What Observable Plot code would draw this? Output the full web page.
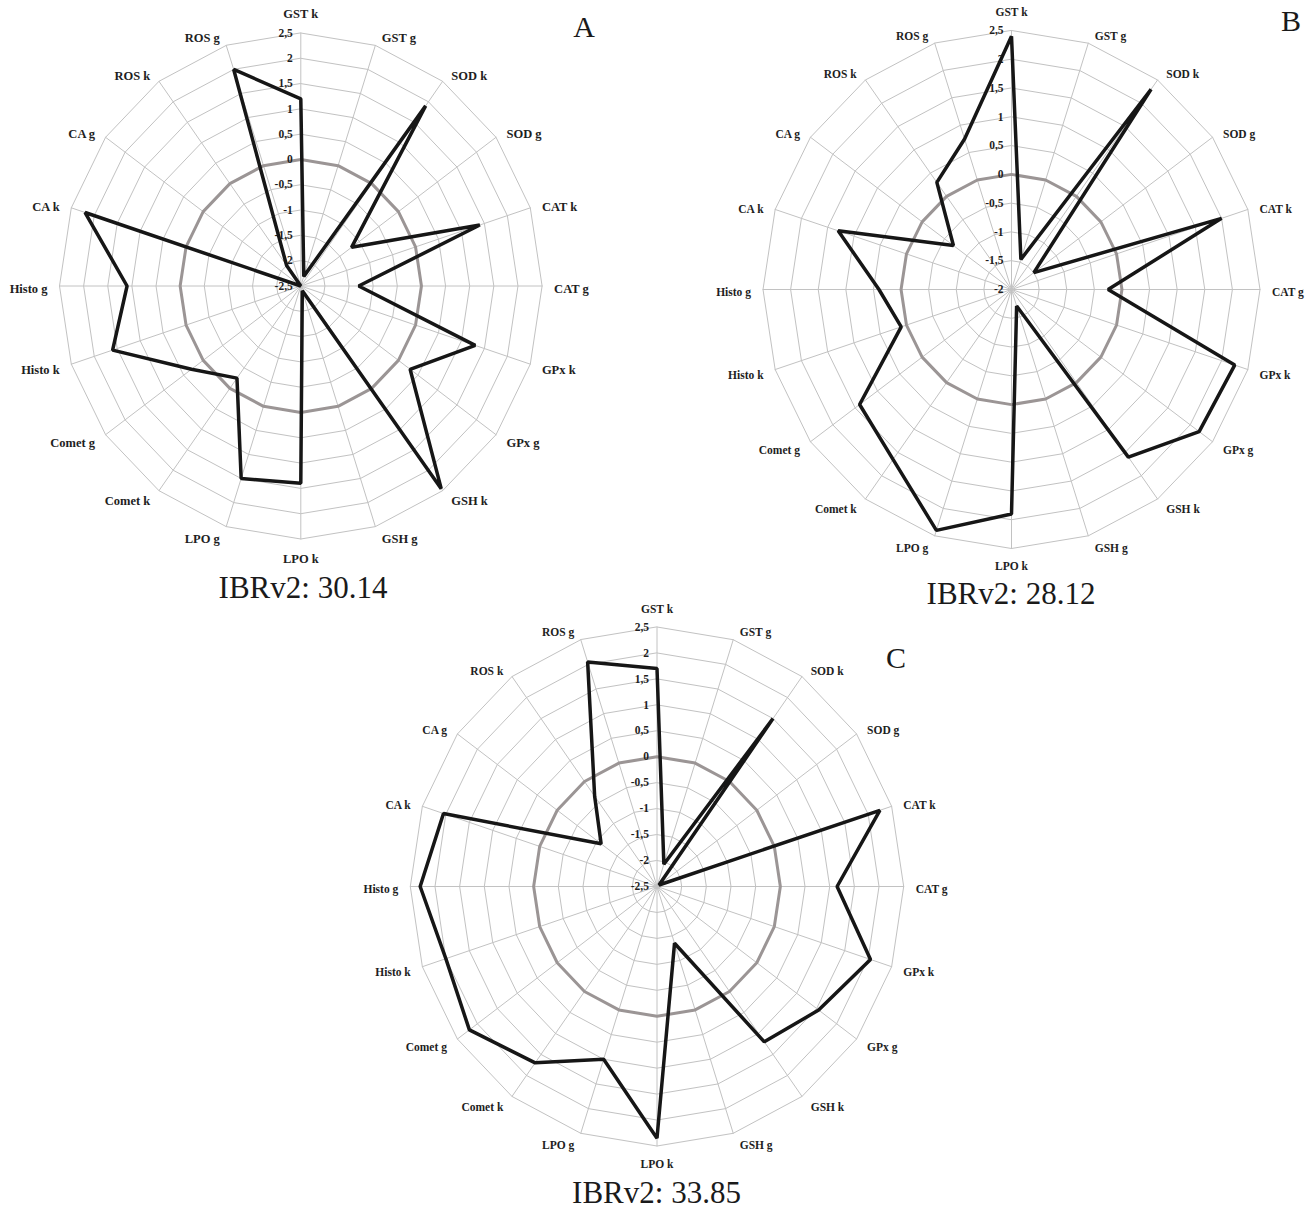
<!DOCTYPE html>
<html>
<head>
<meta charset="utf-8">
<script src="https://cdn.jsdelivr.net/npm/d3@7"></script>
<script src="https://cdn.jsdelivr.net/npm/@observablehq/plot@0.6"></script>
<style>
  html, body { margin: 0; padding: 0; background: #fff; overflow: hidden; }
  #wrap { position: relative; width: 1311px; height: 1209px; }
  #wrap svg { position: absolute; left: 0; top: 0; }
  .ttl { position: absolute; font-family: 'Liberation Serif', 'Times New Roman', serif; font-size: 31px; line-height: 31px; color: #1a1a1a; white-space: nowrap; transform: translateX(-50%); }
  .let { position: absolute; font-family: 'Liberation Serif', 'Times New Roman', serif; font-size: 30px; line-height: 30px; color: #1a1a1a; transform: translateX(-50%); }
</style>
</head>
<body>
<div id="wrap"></div>
<script>
// ---- data ----
const axes = ["GST k","GST g","SOD k","SOD g","CAT k","CAT g","GPx k","GPx g","GSH k","GSH g",
              "LPO k","LPO g","Comet k","Comet g","Histo k","Histo g","CA k","CA g","ROS k","ROS g"];
const valuesA = [1.2, -2.3, 1.9, -1.2, 1.4, -1.3, 1.3, 0.3, 2.45, -2.4, 1.4, 1.5, -0.25, 0.3, 1.6, 1.1, 2.2, -2.5, -2.0, 2.0];
const valuesB = [2.4, -1.45, 2.3, -1.5, 2.0, -0.25, 2.25, 2.2, 1.6, -1.7, 1.9, 2.4, 1.65, 1.4, 0.1, 0.4, 1.3, -0.7, 0.3, 0.75];
const valuesC = [1.7, -2.05, 1.5, -2.45, 2.25, 1.15, 2.05, 1.55, 1.2, -1.35, 2.35, 1.0, 1.7, 2.2, 2.0, 2.3, 2.05, -1.1, -0.35, 2.05];
const ticksA = [-2.5, -2, -1.5, -1, -0.5, 0, 0.5, 1, 1.5, 2, 2.5];
const ticksB = [-2, -1.5, -1, -0.5, 0, 0.5, 1, 1.5, 2, 2.5];
const ticksC = [-2.5, -2, -1.5, -1, -0.5, 0, 0.5, 1, 1.5, 2, 2.5];
const tickLabelsA = ["-2,5","-2","-1,5","-1","-0,5","0","0,5","1","1,5","2","2,5"];
const tickLabelsB = ["-2","-1,5","-1","-0,5","0","0,5","1","1,5","2","2,5"];
const tickLabelsC = ["-2,5","-2","-1,5","-1","-0,5","0","0,5","1","1,5","2","2,5"];
const panelLetters = ["A", "B", "C"];
const titles = ["IBRv2: 30.14", "IBRv2: 28.12", "IBRv2: 33.85"];

// ---- layout (page pixels) ----
const layouts = [
  {cx: 300.3, cy: 285.5, rx: 241.3, ry: 253,   labelSize: 12.5, gapV: 19.5, titleX: 303,   titleBase: 598,  letX: 584,  letBase: 37},
  {cx: 1011,  cy: 289,   rx: 248.5, ry: 259,   labelSize: 11.5, gapV: 18,   titleX: 1011,  titleBase: 604,  letX: 1291, letBase: 31.5},
  {cx: 656.5, cy: 886,   rx: 246.7, ry: 259.5, labelSize: 11.5, gapV: 18,   titleX: 656.5, titleBase: 1203, letX: 896,  letBase: 668}
];
const panels = [
  {values: valuesA, ticks: ticksA, tickLabels: tickLabelsA},
  {values: valuesB, ticks: ticksB, tickLabels: tickLabelsB},
  {values: valuesC, ticks: ticksC, tickLabels: tickLabelsC}
];

const serif = "'Liberation Serif', 'Times New Roman', Times, serif";
const wrap = document.getElementById("wrap");
const n = axes.length;

panels.forEach((p, k) => {
  const L = layouts[k];
  const min = d3.min(p.ticks), max = d3.max(p.ticks);
  const rn = v => (v - min) / (max - min);
  const ang = i => i * 2 * Math.PI / n;
  const pt = (v, i) => ({x: rn(v) * Math.sin(ang(i)), y: rn(v) * Math.cos(ang(i))});

  const rings = p.ticks.filter(t => t !== min).flatMap(t => axes.map((a, i) => ({...pt(t, i), t})));
  const spokes = axes.flatMap((a, i) => [{...pt(min, i), a}, {...pt(max, i), a}]);
  const series = p.values.map((v, i) => ({...pt(v, i), v, a: axes[i]}));
  const tickData = p.ticks.map((t, j) => ({t, label: p.tickLabels[j]}));

  const labelData = axes.map((a, i) => {
    const s = Math.sin(ang(i)), c = Math.cos(ang(i));
    let ox, oy, anchor;
    if (Math.abs(s) < 1e-6) { ox = 0; oy = c > 0 ? L.gapV : -L.gapV; anchor = "middle"; }
    else { ox = Math.sign(s) * (4 + 8 * Math.abs(s)); oy = 10 * c - 2.5; anchor = s > 0 ? "start" : "end"; }
    return {a, x: s + ox / L.rx, y: c + oy / L.ry, anchor};
  });
  const labelMark = anchor => Plot.text(labelData.filter(d => d.anchor === anchor), {
    x: "x", y: "y", text: "a", textAnchor: anchor, fontFamily: serif, fontWeight: "bold",
    fontSize: L.labelSize, fill: "#1e1e1e"
  });

  const chart = Plot.plot({
    width: 1311, height: 1209, margin: 0,
    x: {domain: [-1, 1], range: [L.cx - L.rx, L.cx + L.rx], axis: null},
    y: {domain: [-1, 1], range: [L.cy + L.ry, L.cy - L.ry], axis: null},
    style: {background: "transparent", overflow: "visible"},
    marks: [
      Plot.line(rings.filter(d => d.t !== 0), {x: "x", y: "y", z: "t", curve: "linear-closed", stroke: "#c2c2c2", strokeWidth: 1}),
      Plot.line(spokes, {x: "x", y: "y", z: "a", stroke: "#c2c2c2", strokeWidth: 1}),
      Plot.line(rings.filter(d => d.t === 0), {x: "x", y: "y", curve: "linear-closed", stroke: "#9b9595", strokeWidth: 3}),
      Plot.text(tickData, {x: () => 0, y: d => rn(d.t), text: "label", textAnchor: "end", dx: -8,
        fontFamily: serif, fontWeight: "bold", fontSize: 11.5, fill: "#1e1e1e"}),
      Plot.line(series, {x: "x", y: "y", curve: "linear-closed", stroke: "#161616", strokeWidth: 3.5, strokeLinejoin: "miter"}),
      labelMark("middle"), labelMark("start"), labelMark("end")
    ]
  });
  wrap.appendChild(chart);

  const t = document.createElement("div");
  t.className = "ttl";
  t.textContent = titles[k];
  t.style.left = L.titleX + "px";
  t.style.top = (L.titleBase - 0.8375 * 31) + "px";
  wrap.appendChild(t);

  const l = document.createElement("div");
  l.className = "let";
  l.textContent = panelLetters[k];
  l.style.left = L.letX + "px";
  l.style.top = (L.letBase - 0.8375 * 30) + "px";
  wrap.appendChild(l);
});
</script>
</body>
</html>
